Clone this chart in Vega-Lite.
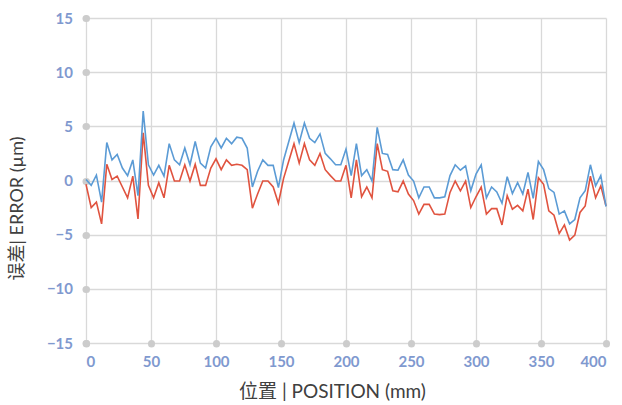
{
  "$schema": "https://vega.github.io/schema/vega-lite/v6.json",
  "width": 520,
  "height": 325,
  "autosize": {"type": "none"},
  "padding": {"left": 86, "top": 18, "right": 16, "bottom": 62},
  "background": "white",
  "config": {"view": {"stroke": null}},
  "data": {"values": [
    {"x": 0, "blue": 0.1, "red": -0.35},
    {"x": 4, "blue": -0.45, "red": -2.5},
    {"x": 8, "blue": 0.5, "red": -2.0},
    {"x": 12, "blue": -2.0, "red": -4.0},
    {"x": 16, "blue": 3.5, "red": 1.5},
    {"x": 20, "blue": 1.9, "red": 0.1},
    {"x": 24, "blue": 2.4, "red": 0.4},
    {"x": 28, "blue": 1.15, "red": -0.6},
    {"x": 32, "blue": 0.45, "red": -1.6},
    {"x": 36, "blue": 1.9, "red": 0.4},
    {"x": 40, "blue": -1.4, "red": -3.55},
    {"x": 44, "blue": 6.4, "red": 4.4},
    {"x": 48, "blue": 1.45, "red": -0.45},
    {"x": 52, "blue": 0.5, "red": -1.6},
    {"x": 56, "blue": 1.4, "red": -0.2},
    {"x": 60, "blue": 0.4, "red": -1.6},
    {"x": 64, "blue": 3.4, "red": 1.4},
    {"x": 68, "blue": 1.9, "red": -0.05},
    {"x": 72, "blue": 1.45, "red": -0.05},
    {"x": 76, "blue": 3.0, "red": 1.45},
    {"x": 80, "blue": 1.45, "red": -0.05},
    {"x": 84, "blue": 3.6, "red": 1.5},
    {"x": 88, "blue": 1.6, "red": -0.45},
    {"x": 92, "blue": 1.15, "red": -0.45},
    {"x": 96, "blue": 3.1, "red": 1.15},
    {"x": 100, "blue": 3.9, "red": 2.0},
    {"x": 104, "blue": 3.0, "red": 1.0},
    {"x": 108, "blue": 3.9, "red": 1.9},
    {"x": 112, "blue": 3.4, "red": 1.4},
    {"x": 116, "blue": 4.0, "red": 1.5},
    {"x": 120, "blue": 3.9, "red": 1.4},
    {"x": 124, "blue": 3.0, "red": 1.0},
    {"x": 128, "blue": -0.6, "red": -2.55},
    {"x": 132, "blue": 0.85, "red": -1.25},
    {"x": 136, "blue": 1.9, "red": -0.05},
    {"x": 140, "blue": 1.4, "red": -0.05},
    {"x": 144, "blue": 1.4, "red": -0.6},
    {"x": 148, "blue": -0.65, "red": -2.1},
    {"x": 152, "blue": 1.9, "red": 0.2},
    {"x": 156, "blue": 3.6, "red": 1.8},
    {"x": 160, "blue": 5.3, "red": 3.4},
    {"x": 164, "blue": 3.5, "red": 1.6},
    {"x": 168, "blue": 5.3, "red": 3.4},
    {"x": 172, "blue": 3.9, "red": 1.9},
    {"x": 176, "blue": 3.5, "red": 1.4},
    {"x": 180, "blue": 4.3, "red": 2.5},
    {"x": 184, "blue": 2.5, "red": 1.0},
    {"x": 188, "blue": 2.0, "red": 0.45},
    {"x": 192, "blue": 1.45, "red": -0.05},
    {"x": 196, "blue": 1.45, "red": -0.05},
    {"x": 200, "blue": 2.9, "red": 1.4},
    {"x": 204, "blue": 0.45, "red": -1.6},
    {"x": 208, "blue": 3.4, "red": 1.9},
    {"x": 212, "blue": 0.45, "red": -1.5},
    {"x": 216, "blue": 1.0, "red": -0.6},
    {"x": 220, "blue": -0.05, "red": -1.6},
    {"x": 224, "blue": 4.9, "red": 3.4},
    {"x": 228, "blue": 2.5, "red": 1.0},
    {"x": 232, "blue": 2.4, "red": 0.85},
    {"x": 236, "blue": 1.0, "red": -0.95},
    {"x": 240, "blue": 0.95, "red": -1.05},
    {"x": 244, "blue": 1.9, "red": -0.05},
    {"x": 248, "blue": 0.5, "red": -1.25},
    {"x": 252, "blue": -0.05, "red": -1.85},
    {"x": 256, "blue": -1.6, "red": -3.1},
    {"x": 260, "blue": -0.6, "red": -2.2},
    {"x": 264, "blue": -0.6, "red": -2.2},
    {"x": 268, "blue": -1.6, "red": -3.1},
    {"x": 272, "blue": -1.6, "red": -3.15},
    {"x": 276, "blue": -1.5, "red": -3.1},
    {"x": 280, "blue": 0.45, "red": -1.1},
    {"x": 284, "blue": 1.45, "red": -0.05},
    {"x": 288, "blue": 0.95, "red": -0.95},
    {"x": 292, "blue": 1.35, "red": -0.05},
    {"x": 296, "blue": -0.95, "red": -2.5},
    {"x": 300, "blue": 0.6, "red": -1.5},
    {"x": 304, "blue": 1.45, "red": -0.6},
    {"x": 308, "blue": -1.6, "red": -3.1},
    {"x": 312, "blue": -0.6, "red": -2.6},
    {"x": 316, "blue": -1.05, "red": -2.6},
    {"x": 320, "blue": -2.1, "red": -4.1},
    {"x": 324, "blue": 0.35, "red": -1.4},
    {"x": 328, "blue": -1.2, "red": -2.65},
    {"x": 332, "blue": -0.2, "red": -2.3},
    {"x": 336, "blue": -1.25, "red": -2.8},
    {"x": 340, "blue": 0.75, "red": -0.8},
    {"x": 344, "blue": -1.65, "red": -3.6},
    {"x": 348, "blue": 1.75, "red": 0.25},
    {"x": 352, "blue": 1.0, "red": -0.35},
    {"x": 356, "blue": -0.75, "red": -2.8},
    {"x": 360, "blue": -1.1, "red": -3.2},
    {"x": 364, "blue": -3.1, "red": -4.9},
    {"x": 368, "blue": -2.8, "red": -4.1},
    {"x": 372, "blue": -4.0, "red": -5.5},
    {"x": 376, "blue": -3.6, "red": -5.05},
    {"x": 380, "blue": -1.6, "red": -2.95},
    {"x": 384, "blue": -0.95, "red": -2.35},
    {"x": 388, "blue": 1.45, "red": 0.4},
    {"x": 392, "blue": -0.5, "red": -1.6},
    {"x": 396, "blue": 0.45, "red": -0.5},
    {"x": 400, "blue": -2.4, "red": -2.35}
  ]},
  "transform": [{"fold": ["red", "blue"], "as": ["series", "value"]}],
  "mark": {"type": "line", "strokeWidth": 1.6},
  "encoding": {
    "x": {
      "field": "x", "type": "quantitative",
      "scale": {"domain": [0, 400], "nice": false, "zero": false},
      "axis": {
        "values": [0, 50, 100, 150, 200, 250, 300, 350, 400],
        "grid": true, "gridColor": "#d9d9d9", "gridWidth": 1.3,
        "domain": false,
        "ticks": true, "tickSize": 0.5, "tickWidth": 7, "tickCap": "round", "tickColor": "#cccccc",
        "labelFont": "Lato", "labelFontWeight": "bold", "labelFontSize": 15, "labelColor": "#7f99cf",
        "labelPadding": 11,
        "title": "位置 | POSITION (mm)",
        "titleFont": "Lato, Noto Sans CJK SC", "titleFontSize": 19, "titleFontWeight": "normal", "titleColor": "#404040",
        "titlePadding": 13,
        "titleX": 246
      }
    },
    "y": {
      "field": "value", "type": "quantitative",
      "scale": {"domain": [-15, 15], "nice": false},
      "axis": {
        "values": [-15, -10, -5, 0, 5, 10, 15],
        "grid": true, "gridColor": "#d9d9d9", "gridWidth": 1.3,
        "domain": false,
        "ticks": true, "tickSize": 0.5, "tickWidth": 7, "tickCap": "round", "tickColor": "#cccccc",
        "labelFont": "Lato", "labelFontWeight": "bold", "labelFontSize": 15, "labelColor": "#7f99cf",
        "labelPadding": 13,
        "title": "误差| ERROR (µm)",
        "titleFont": "Lato, Noto Sans CJK SC", "titleFontSize": 18, "titleFontWeight": "normal", "titleColor": "#404040",
        "titlePadding": 20,
        "titleY": 190
      }
    },
    "color": {
      "field": "series", "type": "nominal",
      "scale": {"domain": ["blue", "red"], "range": ["#5b9bd5", "#e0533f"]},
      "legend": null
    }
  }
}
